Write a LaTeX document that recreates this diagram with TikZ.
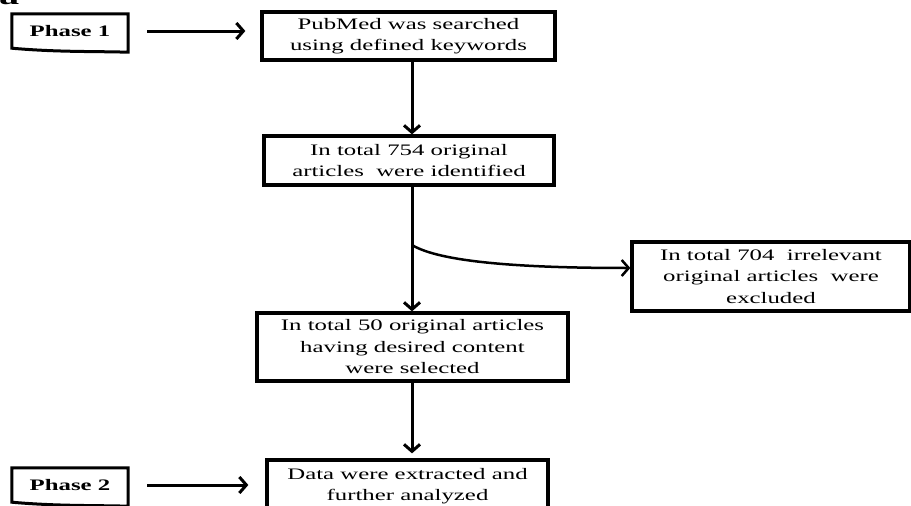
\documentclass[tikz,border=0pt]{standalone}
\usepackage{fontspec}
\setmainfont[FakeStretch=1.55]{Liberation Serif}
\usetikzlibrary{arrows.meta}
\begin{document}
\begin{tikzpicture}[x=1pt,y=-1pt,
  box/.style={draw, line width=3.3pt, align=center, inner sep=0pt,
    font=\fontsize{16}{21.5}\selectfont},
  arr/.style={line width=3pt, -{Straight Barb[length=7pt,width=16pt]}},
  phasebox/.style={inner sep=0pt, minimum width=116, minimum height=34,
    font=\bfseries\fontsize{16}{19}\selectfont}]
\useasboundingbox (0,0) rectangle (911,506);
% clipped panel label
\begin{scope}
\clip (0,0) rectangle (40,8);
\node[anchor=base west, inner sep=0pt, font=\bfseries\fontsize{26}{26}\selectfont] (lab) at (-1,5) {a};
\end{scope}
% boxes
\node[box, minimum width=293, minimum height=48] (b1) at (408.5,36) {PubMed was searched\\using defined keywords};
\node[box, minimum width=290, minimum height=49] (b2) at (409,160.5) {In total 754 original\\articles \ were identified};
\node[box, minimum width=311, minimum height=68] (b3) at (412.5,347) {In total 50 original articles\\having desired content\\were selected};
\node[box, minimum width=278, minimum height=69] (b4) at (771,276.5) {In total 704 \ irrelevant\\original articles \ were\\excluded};
\node[box, minimum width=281, minimum height=52] (b5) at (407.5,486) {Data were extracted and\\further analyzed};
% phase labels
\node[phasebox] (p1) at (70,31) {Phase 1};
\draw[line width=3pt, line join=miter] (p1.north west) -- (p1.north east) -- ([yshift=-4]p1.south east)
  .. controls +(-35,-1) and +(45,4) .. (p1.south west) -- cycle;
\node[phasebox] (p2) at (70,485) {Phase 2};
\draw[line width=3pt, line join=miter] (p2.north west) -- (p2.north east) -- ([yshift=-4]p2.south east)
  .. controls +(-35,-1) and +(45,4) .. (p2.south west) -- cycle;
% connectors
\draw[arr, shorten <=19pt, shorten >=15pt] (p1.east) -- (b1.west |- p1.east);
\draw[arr, shorten <=19pt, shorten >=17pt] (p2.east) -- (b5.west |- p2.east);
\coordinate (vx) at (412,0);
\draw[arr] (b1.south -| vx) -- (b2.north -| vx);
\draw[arr] (b2.south -| vx) -- (b3.north -| vx);
\draw[arr, shorten >=5pt] (b3.south -| vx) -- (b5.north -| vx);
\coordinate (br) at (412,245);
\draw[arr, line width=2.5pt] (br) .. controls (440,262) and (520,268) .. (b4.west |- 0,268);
\end{tikzpicture}
\end{document}
